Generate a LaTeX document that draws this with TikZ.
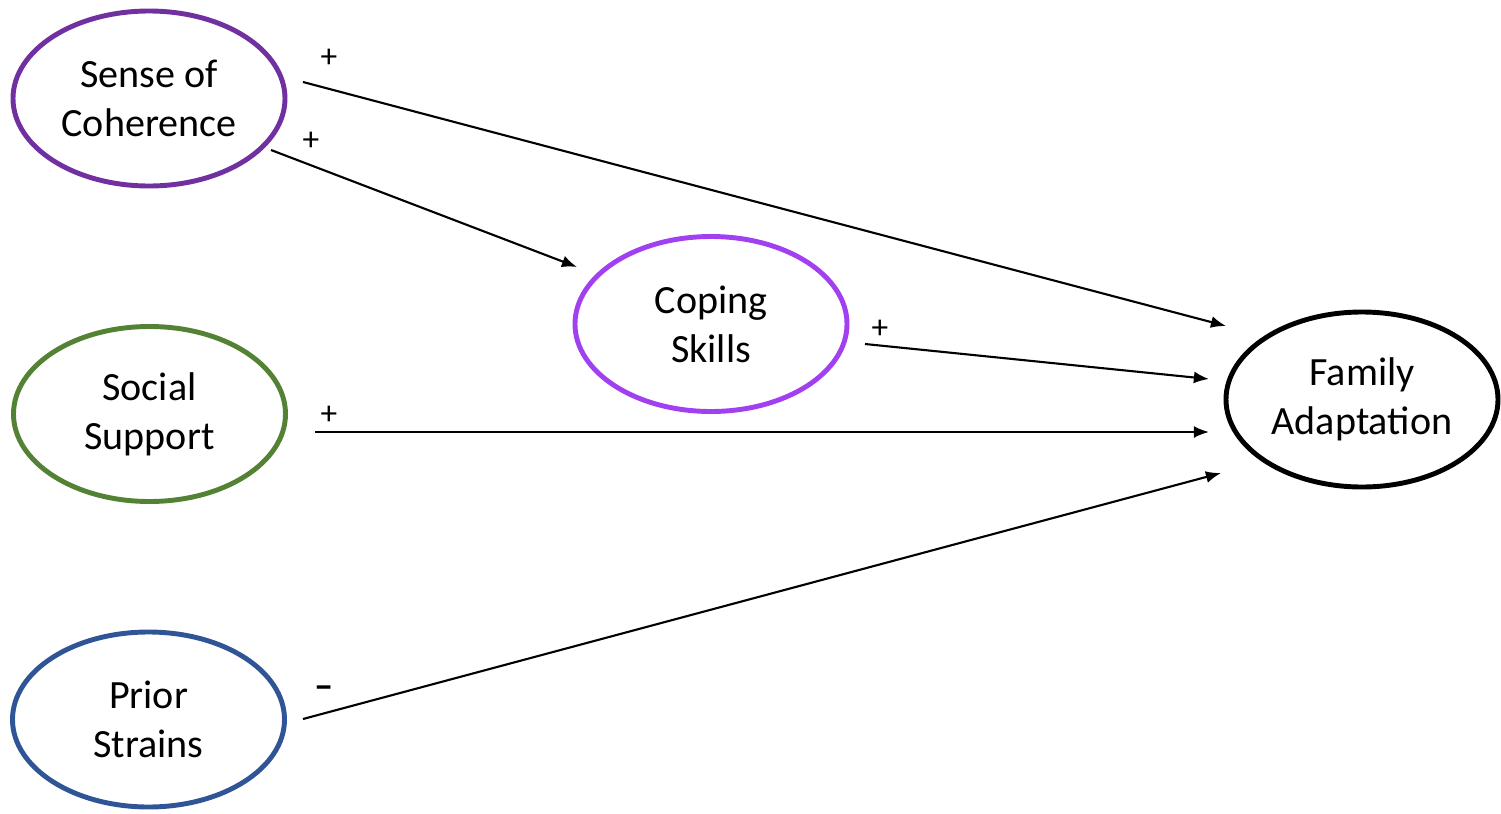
\documentclass[tikz,border=0pt]{standalone}
\usepackage{fontspec}
\setmainfont{Carlito}
\usetikzlibrary{positioning,arrows.meta,shapes.geometric}

\definecolor{socpurple}{HTML}{7030A0}
\definecolor{copviolet}{HTML}{A040F0}
\definecolor{supgreen}{HTML}{548235}
\definecolor{strblue}{HTML}{2F5597}

\begin{document}
\begin{tikzpicture}[->,>={Latex[length=4.3pt,width=3.4pt]},line width=0.6pt,
  var/.style={ellipse,draw,line width=1.4pt,minimum width=2.72cm,minimum height=1.75cm,
    inner sep=0pt,align=center,font=\fontsize{11.4}{13.9}\selectfont},
  sign/.style={font=\fontsize{9.5}{11}\selectfont,inner sep=0pt}]
\useasboundingbox (0,0) rectangle (15.01,8.13);
\node[var,draw=socpurple] (SC) at (1.49,7.145) {Sense of\\Coherence};
\node[var,draw=copviolet] (CS) at (7.11,4.89) {Coping\\Skills};
\node[var,draw=supgreen] (SS) at (1.495,3.99) {Social\\Support};
\node[var,draw=strblue] (PS) at (1.485,0.935) {Prior\\Strains};
\node[var,draw=black] (FA) at (13.62,4.135) {Family\\Adaptation};
% arrow ends
\coordinate (SC1) at (3.03,7.31);
\coordinate (SC2) at (2.71,6.63);
\coordinate (CS1) at (5.77,5.46);
\coordinate (CS2) at (8.65,4.69);
\coordinate (SS1) at (3.15,3.81);
\coordinate (PS1) at (3.03,0.94);
\coordinate (FA1) at (12.26,4.87);
\coordinate (FA2) at (12.09,4.34);
\coordinate (FA3) at (12.09,3.81);
\coordinate (FA4) at (12.21,3.40);
\draw (SC1) -- (FA1);
\draw (SC2) -- (CS1);
\draw (CS2) -- (FA2);
\draw (SS1) -- (FA3);
\draw (PS1) -- (FA4);
% signs
\node[sign] (p1) at (3.29,7.55) {+};
\node[sign] (p2) at (3.11,6.72) {+};
\node[sign] (p3) at (8.80,4.84) {+};
\node[sign] (p4) at (3.29,3.98) {+};
\node[sign,font=\fontsize{11}{12}\selectfont\bfseries] (m1) at (3.24,1.21) {--};
\end{tikzpicture}
\end{document}
